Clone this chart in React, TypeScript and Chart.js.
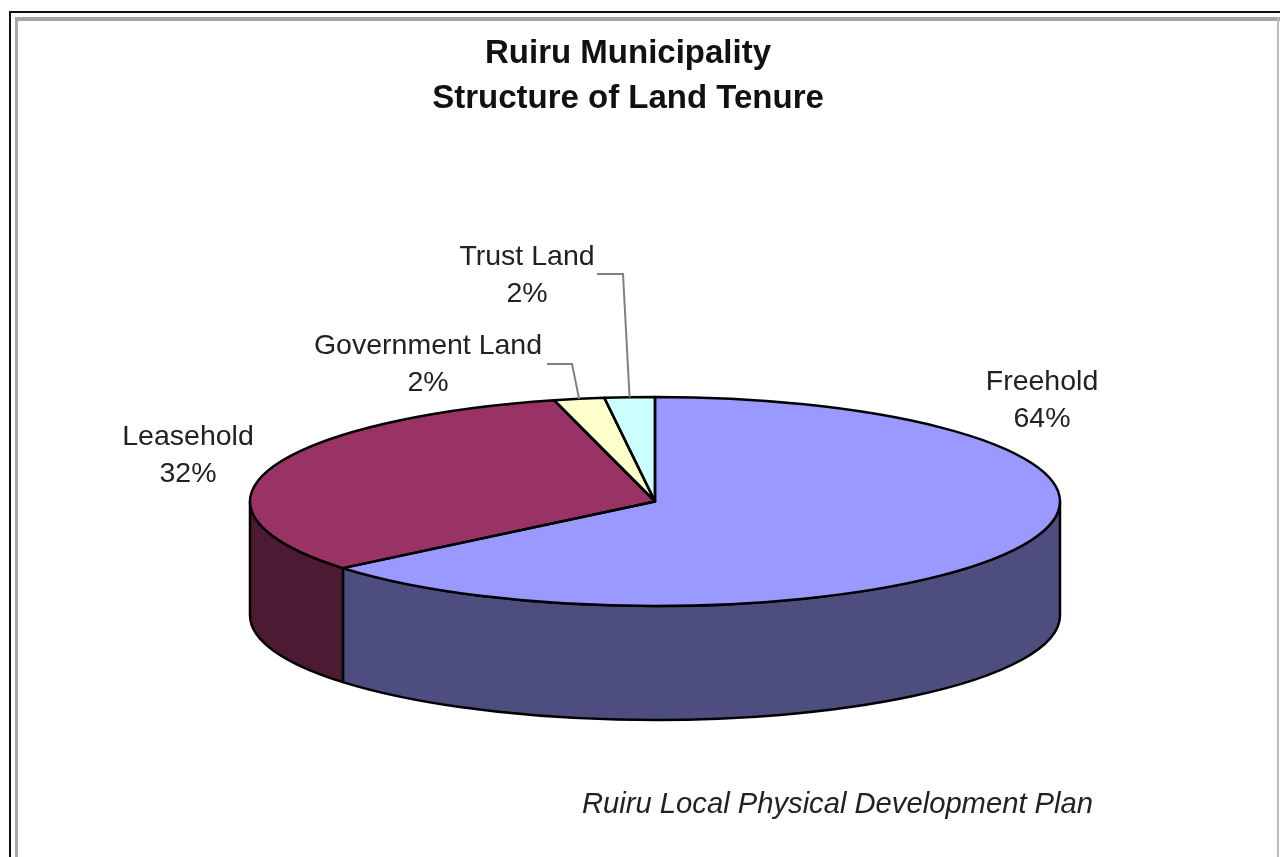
import React, { useEffect, useRef } from "react";
import { Chart, registerables } from "chart.js";

Chart.register(...registerables);

const titleLines = ["Ruiru Municipality", "Structure of Land Tenure"];
const categories = ["Freehold", "Leasehold", "Government Land", "Trust Land"];
const shares = [64, 32, 2, 2];
const topColors = ["#9999FF", "#993366", "#FFFFCC", "#CCFFFF"];
const wallColors = ["#4D4D80", "#4D1A33", "#808066", "#668080"];
const caption = "Ruiru Local Physical Development Plan";

// Projection of the flat pie onto a tilted disc.
const disc = { cx: 655, cy: 501.5, rx: 405, ry: 104.5, depth: 114 };
const textFont = '"Liberation Sans", Arial, sans-serif';
const inkColor = "#222222";
const outlineWidth = 2.5;

// Label centres and leader elbows, one entry per category.
const labelBoxes = [
  { x: 1042, y: 382, leader: null },
  { x: 188, y: 437, leader: null },
  { x: 428, y: 346, leader: [[547, 364], [572, 364]] },
  { x: 527, y: 257, leader: [[597, 274], [623, 274]] },
];

function discPoint(angle: number) {
  return {
    x: disc.cx + disc.rx * Math.cos(angle),
    y: disc.cy + disc.ry * Math.sin(angle),
  };
}

const framePlugin = {
  id: "frame",
  beforeDraw(chart: Chart) {
    const { ctx, width, height } = chart;
    ctx.save();
    ctx.fillStyle = "#FFFFFF";
    ctx.fillRect(0, 0, width, height);
    ctx.fillStyle = "#111111";
    ctx.fillRect(9, 11, width - 9, 2);
    ctx.fillRect(9, 11, 2, height - 11);
    ctx.fillStyle = "#A6A6A6";
    ctx.fillRect(15, 17, width - 15, 4);
    ctx.fillRect(15, 17, 3, height - 17);
    ctx.fillStyle = "#BDBDBD";
    ctx.fillRect(1277, 17, 2, height - 17);
    ctx.restore();
  },
};

const tiltPlugin = {
  id: "tilt",
  beforeDatasetsDraw(chart: Chart) {
    const { ctx } = chart;
    const arcs = chart.getDatasetMeta(0).data as any[];

    // Side wall: only the part of each slice facing the viewer.
    ctx.save();
    ctx.lineWidth = outlineWidth;
    ctx.strokeStyle = "#000000";
    ctx.lineJoin = "round";
    arcs.forEach((arc, i) => {
      const a = Math.max(arc.startAngle, 0);
      const b = Math.min(arc.endAngle, Math.PI);
      if (b <= a) return;
      ctx.beginPath();
      ctx.ellipse(disc.cx, disc.cy, disc.rx, disc.ry, 0, a, b);
      ctx.ellipse(disc.cx, disc.cy + disc.depth, disc.rx, disc.ry, 0, b, a, true);
      ctx.closePath();
      ctx.fillStyle = wallColors[i];
      ctx.fill();
      ctx.stroke();
    });
    ctx.restore();

    // The doughnut controller then paints the top face through this transform.
    const origin = arcs[0];
    ctx.save();
    ctx.translate(disc.cx, disc.cy);
    ctx.scale(1, disc.ry / disc.rx);
    ctx.translate(-origin.x, -origin.y);
  },
  afterDatasetsDraw(chart: Chart) {
    const { ctx } = chart;
    ctx.restore();
    const arcs = chart.getDatasetMeta(0).data as any[];

    // Slice outlines keep a constant width, so they are stroked unscaled.
    ctx.save();
    ctx.lineWidth = outlineWidth;
    ctx.strokeStyle = "#000000";
    ctx.lineJoin = "round";
    arcs.forEach((arc) => {
      ctx.beginPath();
      ctx.moveTo(disc.cx, disc.cy);
      ctx.ellipse(disc.cx, disc.cy, disc.rx, disc.ry, 0, arc.startAngle, arc.endAngle);
      ctx.closePath();
      ctx.stroke();
    });
    ctx.restore();
  },
};

const labelPlugin = {
  id: "sliceLabels",
  afterDraw(chart: Chart) {
    const { ctx } = chart;
    const arcs = chart.getDatasetMeta(0).data as any[];
    ctx.save();

    ctx.strokeStyle = "#808080";
    ctx.lineWidth = 2;
    labelBoxes.forEach((box, i) => {
      if (!box.leader) return;
      const tip = discPoint((arcs[i].startAngle + arcs[i].endAngle) / 2);
      ctx.beginPath();
      ctx.moveTo(box.leader[0][0], box.leader[0][1]);
      ctx.lineTo(box.leader[1][0], box.leader[1][1]);
      ctx.lineTo(tip.x, tip.y);
      ctx.stroke();
    });

    ctx.fillStyle = inkColor;
    ctx.textAlign = "center";
    ctx.textBaseline = "middle";
    ctx.font = `28.5px ${textFont}`;
    labelBoxes.forEach((box, i) => {
      ctx.fillText(categories[i], box.x, box.y);
      ctx.fillText(`${shares[i]}%`, box.x, box.y + 37);
    });

    ctx.textAlign = "left";
    ctx.font = `italic 29.2px ${textFont}`;
    ctx.fillText(caption, 582, 805);
    ctx.restore();
  },
};

export default function App() {
  const canvasRef = useRef<HTMLCanvasElement>(null);

  useEffect(() => {
    const chart = new Chart(canvasRef.current!, {
      type: "pie",
      data: {
        labels: categories,
        datasets: [
          {
            data: shares,
            backgroundColor: topColors,
            borderWidth: 0,
            clip: false,
          } as any,
        ],
      },
      options: {
        responsive: false,
        animation: false,
        events: [],
        radius: disc.rx,
        layout: { padding: { top: 0, bottom: 60, left: 0, right: 24 } },
        plugins: {
          legend: { display: false },
          tooltip: { enabled: false },
          title: {
            display: true,
            text: titleLines,
            fullSize: false,
            color: "#111111",
            font: { family: textFont, size: 33, weight: "bold", lineHeight: 1.37 },
            padding: { top: 31, bottom: 10 },
          },
        },
      } as any,
      plugins: [framePlugin, tiltPlugin, labelPlugin],
    });
    return () => chart.destroy();
  }, []);

  return (
    <canvas
      ref={canvasRef}
      width={1280}
      height={857}
      style={{ position: "fixed", left: 0, top: 0, display: "block" }}
    />
  );
}
